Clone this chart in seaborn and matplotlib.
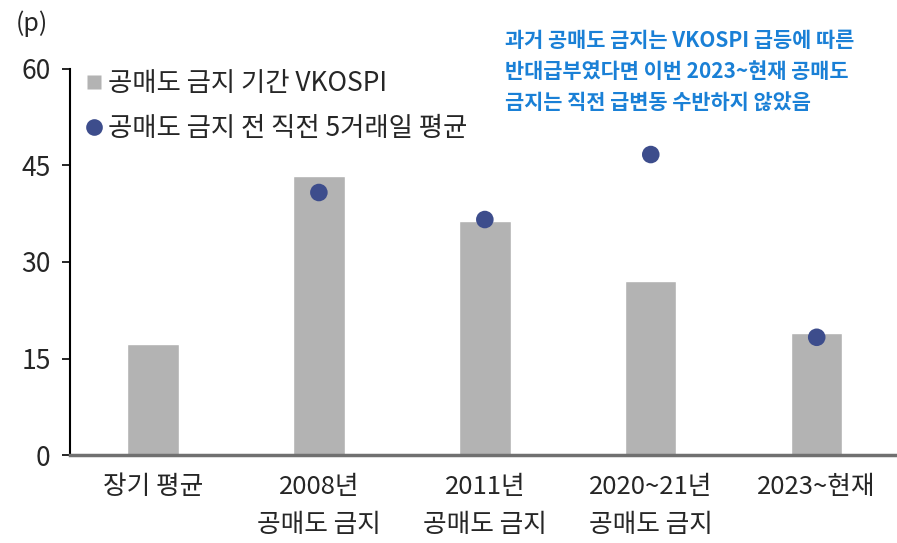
import matplotlib
matplotlib.use("Agg")
import matplotlib.pyplot as plt
import seaborn as sns
import pandas as pd
import numpy as np
from matplotlib.lines import Line2D

categories = ["장기 평균", "2008년\n공매도 금지", "2011년\n공매도 금지", "2020~21년\n공매도 금지", "2023~현재"]
vkospi_ban = [17.2, 43.3, 36.3, 27.1, 19.0]
pre_ban_avg = [np.nan, 40.8, 36.6, 46.7, 18.3]
yticks = [0, 15, 30, 45, 60]
bar_label = "공매도 금지 기간 VKOSPI"
dot_label = "공매도 금지 전 직전 5거래일 평균"
note = "과거 공매도 금지는 VKOSPI 급등에 따른\n반대급부였다면 이번 2023~현재 공매도\n금지는 직전 급변동 수반하지 않았음"

sns.set_theme(style="white")
plt.rcParams['font.family'] = ['Noto Sans CJK KR', 'DejaVu Sans']

df = pd.DataFrame({"cat": categories, "bar": vkospi_ban, "dot": pre_ban_avg})

fig = plt.figure(figsize=(8.97, 5.43), dpi=100)
ax = fig.add_axes([0.078, 0.162, 0.925, 0.711])

bar_color = "#b3b3b3"
dot_color = "#3d4d8c"
sns.barplot(data=df, x="cat", y="bar", color=bar_color, width=0.31, ax=ax, saturation=1)
xs = np.arange(len(categories))
sns.scatterplot(x=xs, y=df["dot"], color=dot_color, s=160, edgecolor="none", ax=ax, zorder=5)

ax.set_ylim(0, 60)
ax.set_xlim(-0.5, 4.5)
ax.set_yticks(yticks)
ax.set_yticklabels([str(t) for t in yticks], fontsize=19)
ax.set_xlabel("")
ax.set_ylabel("")

ax.set_xticks(xs)
ax.set_xticklabels(categories, fontsize=18.5, linespacing=1.6, va="top")
ax.tick_params(axis="x", which="major", length=0, pad=14)
ax.set_xticks(np.arange(-0.5, 4.6, 1.0), minor=True)
ax.tick_params(axis="x", which="minor", length=8, width=1.2, color="black", direction="inout")
ax.tick_params(axis="y", length=6, width=1.2, color="black", direction="out", left=True, pad=8)

for s in ["top", "right"]:
    ax.spines[s].set_visible(False)
ax.spines["left"].set_color("black")
ax.spines["left"].set_linewidth(1.5)
ax.spines["bottom"].set_color("#707070")
ax.spines["bottom"].set_linewidth(2.5)

handles = [
    Line2D([0], [0], marker="s", color="none", markerfacecolor=bar_color, markeredgecolor="none", markersize=10),
    Line2D([0], [0], marker="o", color="none", markerfacecolor=dot_color, markeredgecolor="none", markersize=12),
]
ax.legend(handles, [bar_label, dot_label], loc="upper left", bbox_to_anchor=(0.004, 1.032),
          frameon=False, fontsize=19, handlelength=0.55, handletextpad=0.25,
          labelspacing=0.68, borderaxespad=0.1)

fig.text(0.018, 0.957, "(p)", fontsize=18, va="center", ha="left")
fig.text(0.563, 0.945, note, fontsize=15, color="#1a80d6", fontweight="bold",
         va="top", ha="left", linespacing=1.6)

fig.savefig("out.png", dpi=100)
